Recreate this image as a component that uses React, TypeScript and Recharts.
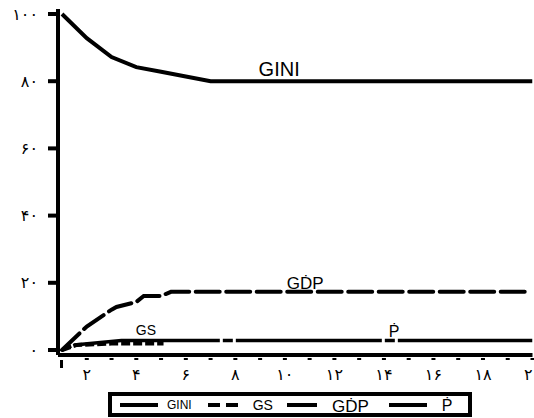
import React from 'react';
import { LineChart, Line, XAxis, YAxis, ReferenceDot, Legend } from 'recharts';

// series values
const giniX = [1, 2, 3, 4, 5, 6, 7, 20];
const giniY = [100, 92.8, 87.2, 84.2, 82.8, 81.4, 80, 80];

const gdpX = [1, 2, 3, 3.2, 4, 4.3, 5, 5.4, 19.8];
const gdpY = [0, 7, 12, 12.8, 14.3, 16.1, 16.1, 17.3, 17.3];

const gsX = [1, 1.6, 3, 5.1];
const gsY = [0, 1.5, 1.9, 1.9];

const pX = [1, 1.5, 3.4, 20];
const pY = [0, 1.5, 2.8, 2.8];

const xTicks = [1, 2, 3, 4, 5, 6, 7, 8, 9, 10, 11, 12, 13, 14, 15, 16, 17, 18, 19, 20];
const yTicks = [0, 20, 40, 60, 80, 100];

const seriesNames = ['GINI', 'GS', 'GḊP', 'Ṗ'];
// in-chart label anchors (x, value) for each series name
const labelX = [9.77, 4.39, 10.82, 14.41];
const labelY = [83.6, 6.0, 19.9, 5.65];

const zip = (xs: number[], ys: number[]) => xs.map((x, i) => ({ x, v: ys[i] }));

const giniData = zip(giniX, giniY);
const gdpData = zip(gdpX, gdpY);
const gsData = zip(gsX, gsY);
const pData = zip(pX, pY);

const xDomain: [number, number] = [0.838, 20];
const yDomain: [number, number] = [-1.49, 101.49];

const FONT = '"Liberation Sans", Arial, sans-serif';
const FA_FONT = '"DejaVu Sans", sans-serif';

const toFa = (n: number) => String(n).replace(/\d/g, d => '۰۱۲۳۴۵۶۷۸۹'[Number(d)]);

const labelSize: Record<string, number> = { GINI: 20, GS: 14, 'GḊP': 17, 'Ṗ': 16 };

// legend look, per entry
const legendStyle: Record<string, any> = {
  GINI: { ml: 8, len: 38, dashed: false, gap: 9, size: 12, dy: 0 },
  GS: { ml: 16, len: 30, dashed: true, gap: 15, size: 14, dy: 0 },
  'GḊP': { ml: 14, len: 30, dashed: false, gap: 15, size: 17, dy: 2 },
  'Ṗ': { ml: 20, len: 38, dashed: false, gap: 15, size: 16, dy: 1 },
};

const XTick = (props: any) => {
  const { x, y, payload } = props;
  const v = payload.value;
  const first = v === xTicks[0];
  return (
    <g>
      {first ? (
        <rect x={x - 2} y={y + 5} width={3} height={8} fill="#000" />
      ) : (
        <rect x={x - 2} y={y + 3} width={4} height={2} fill="#000" />
      )}
      {v % 2 === 0 && (
        <text x={x} y={y + 25} textAnchor="middle" fontSize={16} fontFamily={FA_FONT} fill="#000">
          {toFa(v)}
        </text>
      )}
    </g>
  );
};

const LegendBox = () => (
  <div
    style={{
      boxSizing: 'border-box',
      width: 364,
      height: 25,
      border: '4px solid #000',
      display: 'flex',
      alignItems: 'center',
      fontFamily: FONT,
      color: '#000',
      background: '#fff',
    }}
  >
    {seriesNames.map(name => {
      const s = legendStyle[name];
      return (
        <React.Fragment key={name}>
          {s.dashed ? (
            <span style={{ marginLeft: s.ml, display: 'flex', width: s.len, justifyContent: 'space-between' }}>
              <span style={{ width: 12, height: 4, background: '#000' }} />
              <span style={{ width: 12, height: 4, background: '#000' }} />
            </span>
          ) : (
            <span style={{ marginLeft: s.ml, width: s.len, height: 4, background: '#000' }} />
          )}
          <span style={{ marginLeft: s.gap, fontSize: s.size, lineHeight: 1, position: 'relative', top: s.dy }}>
            {name}
          </span>
        </React.Fragment>
      );
    })}
  </div>
);

export default function App() {
  return (
    <div style={{ position: 'absolute', left: 0, top: 0, width: 534, height: 418, background: '#fff' }}>
      <LineChart
        width={534}
        height={418}
        margin={{ top: 9, right: 1.5, left: 0, bottom: 0 }}
        style={{ fontFamily: FONT }}
      >
        <XAxis
          dataKey="x"
          type="number"
          domain={xDomain}
          ticks={xTicks}
          interval={0}
          height={63}
          tickSize={0}
          tickMargin={0}
          tickLine={false}
          tick={<XTick />}
          axisLine={{ stroke: '#000', strokeWidth: 4 }}
          allowDataOverflow
        />
        <XAxis
          xAxisId="top"
          orientation="top"
          type="number"
          domain={xDomain}
          height={0}
          tick={false}
          tickLine={false}
          axisLine={{ stroke: '#000', strokeWidth: 4 }}
        />
        <YAxis
          type="number"
          domain={yDomain}
          ticks={yTicks}
          interval={0}
          width={58}
          tickSize={10}
          tickMargin={10}
          tickFormatter={toFa}
          tick={{ fill: '#000', fontSize: 16, fontFamily: FA_FONT }}
          tickLine={{ stroke: '#000', strokeWidth: 4 }}
          axisLine={{ stroke: '#000', strokeWidth: 4 }}
          allowDataOverflow
        />
        <YAxis
          yAxisId="right"
          orientation="right"
          type="number"
          domain={yDomain}
          width={0}
          tick={false}
          tickLine={false}
          axisLine={{ stroke: '#a0a0a0', strokeWidth: 1 }}
        />
        <Line data={giniData} dataKey="v" name="GINI" type="linear" stroke="#000" strokeWidth={4} dot={false} isAnimationActive={false} />
        <Line data={gdpData} dataKey="v" name="GḊP" type="linear" stroke="#000" strokeWidth={4} strokeDasharray="24 6.5" strokeLinecap="round" dot={false} isAnimationActive={false} />
        <Line data={pData} dataKey="v" name="Ṗ" type="linear" stroke="#000" strokeWidth={3.5} strokeDasharray="146 3 10 3" strokeDashoffset={-13} dot={false} isAnimationActive={false} />
        <Line data={gsData} dataKey="v" name="GS" type="linear" stroke="#000" strokeWidth={4} strokeDasharray="9 3" dot={false} isAnimationActive={false} />
        {seriesNames.map((name, i) => (
          <ReferenceDot
            key={name}
            x={labelX[i]}
            y={labelY[i]}
            r={1}
            fill="none"
            stroke="none"
            label={{ value: name, position: 'center', fontSize: labelSize[name], fill: '#000', fontFamily: FONT }}
          />
        ))}
        <Legend
          layout="vertical"
          align="center"
          verticalAlign="middle"
          content={<LegendBox />}
          wrapperStyle={{ left: 108, top: 392, width: 364, height: 25 }}
        />
      </LineChart>
    </div>
  );
}
